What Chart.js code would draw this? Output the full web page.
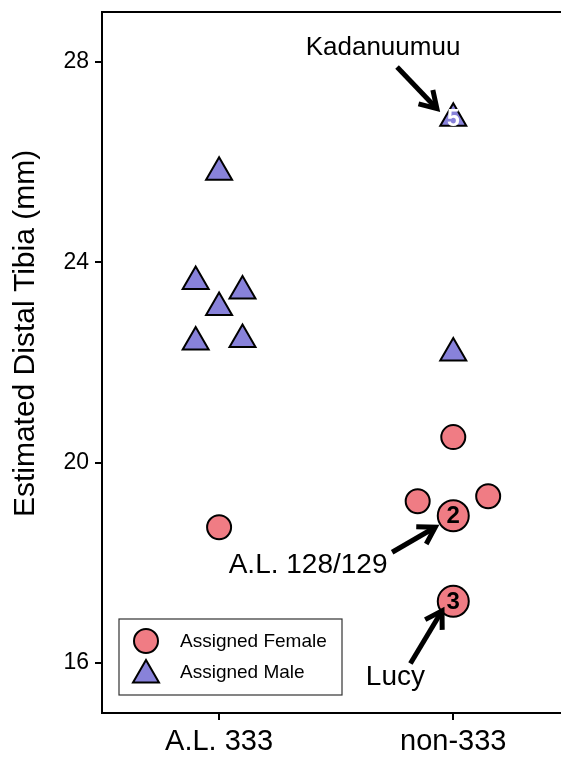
<!DOCTYPE html>
<html lang="en">
<head>
    <meta charset="UTF-8">
    <title>Estimated Distal Tibia</title>
    <script src="https://cdn.jsdelivr.net/npm/chart.js"></script>
    <style>
        html, body { margin: 0; padding: 0; background: #fff; overflow: hidden; }
        .chart-container { width: 561px; height: 759px; }
    </style>
</head>
<body>
    <div class="chart-container">
        <canvas id="tibiaChart" width="561" height="759"></canvas>
    </div>

    <script>
        // groups on the x axis (1 = A.L. 333, 2 = non-333, small offsets are jitter)
        const groups = ['A.L. 333', 'non-333'];
        const yTicks = [16, 20, 24, 28];
        const yTitle = 'Estimated Distal Tibia (mm)';

        // Assigned Female (circles)
        const femaleX = [1.00, 2.00, 1.848, 2.00, 2.149, 2.00];
        const femaleY = [18.71, 20.51, 19.23, 18.94, 19.33, 17.23];
        const femaleTag = ['', '', '', '2', '', '3'];

        // Assigned Male (triangles)
        const maleX = [1.00, 0.90, 1.10, 1.00, 0.90, 1.10, 2.00, 2.00];
        const maleY = [25.80, 23.62, 23.43, 23.10, 22.41, 22.46, 26.88, 22.19];
        const maleTag = ['', '', '', '', '', '', '5', ''];

        // annotations: text, font size, text position, arrow tail -> arrow tip (data units)
        const notes = [
            { text: 'Kadanuumuu', size: 26, tx: 1.70, ty: 28.29, x0: 1.760, y0: 27.90, x1: 1.930, y1: 27.07 },
            { text: 'A.L. 128/129', size: 28, tx: 1.38, ty: 17.95, x0: 1.739, y0: 18.21, x1: 1.923, y1: 18.71 },
            { text: 'Lucy', size: 28, tx: 1.753, ty: 15.71, x0: 1.817, y0: 15.99, x1: 1.952, y1: 17.04 }
        ];

        const FONT = "'Liberation Sans', Arial, sans-serif";
        const PINK = 'rgb(240,124,132)';
        const BLUE = 'rgb(136,130,218)';

        const toPoints = (xs, ys) => xs.map((v, i) => ({ x: v, y: ys[i] }));

        const overlay = {
            id: 'overlay',
            afterDatasetsDraw(chart) {
                const ctx = chart.ctx;
                const a = chart.chartArea;
                const sx = chart.scales.x, sy = chart.scales.y;
                ctx.save();

                // top frame line
                ctx.strokeStyle = '#000';
                ctx.lineWidth = 2;
                ctx.beginPath();
                ctx.moveTo(a.left - 1, a.top);
                ctx.lineTo(a.right, a.top);
                ctx.stroke();

                // y axis title
                ctx.save();
                ctx.translate(26, sy.getPixelForValue(22.58));
                ctx.rotate(-Math.PI / 2);
                ctx.fillStyle = '#000';
                ctx.font = '30px ' + FONT;
                ctx.textAlign = 'center';
                ctx.textBaseline = 'middle';
                ctx.fillText(yTitle, 0, 0);
                ctx.restore();

                // numbers inside some markers
                ctx.textAlign = 'center';
                ctx.textBaseline = 'middle';
                chart.getDatasetMeta(0).data.forEach((p, i) => {
                    if (!femaleTag[i]) return;
                    ctx.fillStyle = '#000';
                    ctx.font = 'bold 24px ' + FONT;
                    ctx.fillText(femaleTag[i], p.x, p.y + 1);
                });
                chart.getDatasetMeta(1).data.forEach((p, i) => {
                    if (!maleTag[i]) return;
                    ctx.fillStyle = '#fff';
                    ctx.font = 'bold 23px ' + FONT;
                    ctx.fillText(maleTag[i], p.x, p.y + 2);
                });

                // annotations with arrows
                notes.forEach(n => {
                    ctx.fillStyle = '#000';
                    ctx.font = n.size + 'px ' + FONT;
                    ctx.fillText(n.text, sx.getPixelForValue(n.tx), sy.getPixelForValue(n.ty));

                    const px0 = sx.getPixelForValue(n.x0), py0 = sy.getPixelForValue(n.y0);
                    const px1 = sx.getPixelForValue(n.x1), py1 = sy.getPixelForValue(n.y1);
                    const ang = Math.atan2(py1 - py0, px1 - px0);
                    const head = 19, spread = 0.55;
                    ctx.strokeStyle = '#000';
                    ctx.lineWidth = 5;
                    ctx.lineCap = 'butt';
                    ctx.lineJoin = 'miter';
                    ctx.beginPath();
                    ctx.moveTo(px0, py0);
                    ctx.lineTo(px1 - 2 * Math.cos(ang), py1 - 2 * Math.sin(ang));
                    ctx.stroke();
                    ctx.beginPath();
                    ctx.moveTo(px1 - head * Math.cos(ang - spread), py1 - head * Math.sin(ang - spread));
                    ctx.lineTo(px1, py1);
                    ctx.lineTo(px1 - head * Math.cos(ang + spread), py1 - head * Math.sin(ang + spread));
                    ctx.stroke();
                });

                // legend box, bottom left inside the plot
                const bx = a.left + 17, by = a.bottom - 94, bw = 223, bh = 76;
                ctx.lineWidth = 1.2;
                ctx.strokeStyle = '#333';
                ctx.strokeRect(bx, by, bw, bh);
                const rows = [
                    { label: 'Assigned Female', style: 'circle', r: 12, fill: PINK, dy: 22 },
                    { label: 'Assigned Male', style: 'triangle', r: 15, fill: BLUE, dy: 53 }
                ];
                rows.forEach(r => {
                    ctx.fillStyle = r.fill;
                    ctx.strokeStyle = '#000';
                    ctx.lineWidth = 2;
                    ctx.beginPath();
                    if (r.style === 'circle') {
                        ctx.arc(bx + 27, by + r.dy, r.r, 0, Math.PI * 2);
                    } else {
                        const cx = bx + 27, cy = by + r.dy + 3;
                        for (let k = 0; k < 3; k++) {
                            const t = k * 2 * Math.PI / 3;
                            const X = cx + Math.sin(t) * r.r, Y = cy - Math.cos(t) * r.r;
                            if (k === 0) ctx.moveTo(X, Y); else ctx.lineTo(X, Y);
                        }
                        ctx.closePath();
                    }
                    ctx.fill();
                    ctx.stroke();
                    ctx.fillStyle = '#000';
                    ctx.font = '19px ' + FONT;
                    ctx.textAlign = 'left';
                    ctx.fillText(r.label, bx + 61, by + r.dy + 1);
                });

                ctx.restore();
            }
        };

        const ctx = document.getElementById('tibiaChart').getContext('2d');
        new Chart(ctx, {
            type: 'scatter',
            data: {
                datasets: [
                    {
                        label: 'Assigned Female',
                        data: toPoints(femaleX, femaleY),
                        pointStyle: 'circle',
                        pointRadius: femaleTag.map(t => t ? 15.5 : 12),
                        pointBackgroundColor: PINK,
                        pointBorderColor: '#000',
                        pointBorderWidth: 2
                    },
                    {
                        label: 'Assigned Male',
                        data: toPoints(maleX, maleY),
                        pointStyle: 'triangle',
                        pointRadius: 15,
                        pointBackgroundColor: BLUE,
                        pointBorderColor: '#000',
                        pointBorderWidth: 2
                    }
                ]
            },
            options: {
                responsive: false,
                animation: false,
                layout: { autoPadding: false, padding: { top: 12, right: 0, left: 0, bottom: 0 } },
                plugins: {
                    legend: { display: false },
                    tooltip: { enabled: false }
                },
                scales: {
                    x: {
                        type: 'linear',
                        min: 0.5,
                        max: 2.46,
                        afterBuildTicks: s => { s.ticks = groups.map((g, i) => ({ value: i + 1 })); },
                        afterFit: s => { s.height = 46; s.paddingLeft = 0; s.paddingRight = 0; },
                        border: { color: '#000', width: 2 },
                        grid: { drawOnChartArea: false, drawTicks: true, tickLength: 7, color: '#000', lineWidth: 2 },
                        ticks: {
                            color: '#000',
                            padding: 5,
                            font: { family: FONT, size: 29 },
                            callback: v => groups[v - 1]
                        }
                    },
                    y: {
                        min: 15,
                        max: 29,
                        afterBuildTicks: s => { s.ticks = yTicks.map(v => ({ value: v })); },
                        afterFit: s => { s.width = 102; s.paddingTop = 0; s.paddingBottom = 0; },
                        border: { color: '#000', width: 2 },
                        grid: { drawOnChartArea: false, drawTicks: true, tickLength: 7, color: '#000', lineWidth: 2 },
                        ticks: {
                            color: '#000',
                            padding: 6,
                            font: { family: FONT, size: 23 }
                        }
                    }
                }
            },
            plugins: [overlay]
        });
    </script>
</body>
</html>
